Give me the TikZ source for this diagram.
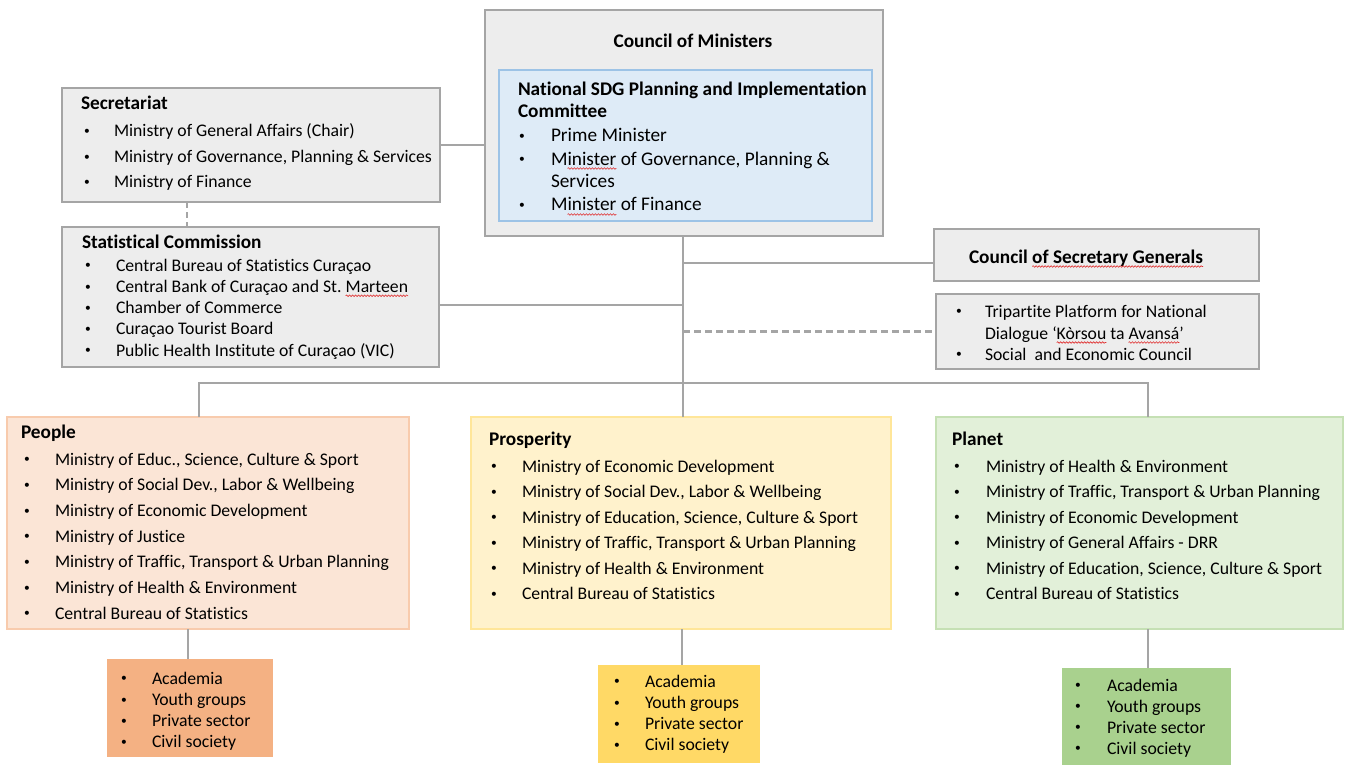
\documentclass[tikz,border=0pt]{standalone}
\usepackage{fontspec}
\setmainfont{Carlito}[Ligatures=NoCommon]
\usetikzlibrary{decorations.pathmorphing}

\definecolor{boxgray}{HTML}{EDEDED}
\definecolor{linegray}{HTML}{A5A5A5}
\definecolor{nsdgfill}{HTML}{DEEBF7}
\definecolor{nsdgline}{HTML}{9DC3E6}
\definecolor{peoplefill}{HTML}{FBE5D6}
\definecolor{peopleline}{HTML}{F8CBAD}
\definecolor{peopledark}{HTML}{F4B183}
\definecolor{prosfill}{HTML}{FFF2CC}
\definecolor{prosline}{HTML}{FFE699}
\definecolor{prosdark}{HTML}{FFD966}
\definecolor{planetfill}{HTML}{E2F0D9}
\definecolor{planetline}{HTML}{C5E0B4}
\definecolor{planetdark}{HTML}{A9D18E}
\definecolor{spellred}{HTML}{E03030}

\newcommand\fs{\fontsize{17.7}{21}\selectfont}
\newcommand\fsl{\fontsize{19.3}{23}\selectfont}
% small list bullet
\newcommand\bul{{\fontsize{11.5}{12}\selectfont\raisebox{2.2pt}{\textbullet}}}

\tikzset{
  panel/.style={draw=linegray, line width=2.5pt, fill=boxgray, inner sep=0pt, outer sep=0pt, anchor=north west},
  tinted/.style 2 args={panel, draw=#1, fill=#2},
  solidbox/.style={panel, draw=none, fill=#1},
  txt/.style={anchor=base west, inner sep=0pt, outer sep=0pt, font=\fs},
  ttl/.style={anchor=base west, inner sep=0pt, outer sep=0pt, font=\fsl\bfseries},
  link/.style={draw=linegray, line width=2.6pt},
  dlink/.style={link, dash pattern=on 7pt off 4pt},
  proofmark/.style={draw=spellred, line width=0.6pt,
    decorate, decoration={snake, amplitude=0.8pt, segment length=3pt}},
}

% \panelbox{name}{x1}{y1}{x2}{y2}{style}
\newcommand\panelbox[6]{%
  \node[#6, minimum width={(#4-#2)*1pt}, minimum height={(#5-#3)*1pt}] (#1) at (#2,#3) {};}

% \itemlist{prefix}{bullet x}{text x}{first baseline}{spacing}{style}{items}
\newcommand\itemlist[7]{%
  \foreach \t [count=\i] in {#7} {%
    \node[txt,#6] (#1b\i) at (#2,{#4+(\i-1)*#5}) {\bul};
    \node[txt,#6] (#1t\i) at (#3,{#4+(\i-1)*#5}) {\t};
  }}

\begin{document}
\begin{tikzpicture}[x=1pt,y=-1pt]
\useasboundingbox (0,0) rectangle (1350,765);

% ---------- boxes ----------
\panelbox{com}{485}{10}{883}{236}{panel}
\panelbox{nsdg}{499}{70}{872}{221}{tinted={nsdgline}{nsdgfill}}
\panelbox{sec}{62}{88}{440}{202}{panel}
\panelbox{stat}{62}{227}{439}{367}{panel}
\panelbox{csg}{934}{229}{1259}{281}{panel}
\panelbox{trip}{936}{294}{1259}{369}{panel}
\panelbox{people}{7}{417}{409}{629}{tinted={peopleline}{peoplefill}}
\panelbox{pros}{471}{417}{891}{629}{tinted={prosline}{prosfill}}
\panelbox{planet}{936}{417}{1343}{629}{tinted={planetline}{planetfill}}
\panelbox{peopleS}{107}{659}{273}{757}{solidbox=peopledark}
\panelbox{prosS}{598}{665}{760}{763}{solidbox=prosdark}
\panelbox{planetS}{1062}{668}{1231}{770}{solidbox=planetdark}

% ---------- junction points ----------
\coordinate (trunk) at (683,0);
\coordinate (dashx) at (187,0);
\coordinate (csgjoin) at (683,263);
\coordinate (statjoin) at (683,305);
\coordinate (distL) at (199,383);
\coordinate (distR) at (1148,383);
\coordinate (peopleX) at (188,0);
\coordinate (prosX) at (682,0);
\coordinate (planetX) at (1148,0);

% ---------- connectors ----------
\draw[link] (sec.east) -- (sec.east -| com.west);
\draw[dlink, dash pattern=on 6pt off 4pt] (sec.south -| dashx) -- (stat.north -| dashx);
\draw[link] (com.south -| trunk) -- (pros.north -| trunk);
\draw[link] (csgjoin) -- (csgjoin -| csg.west);
\draw[link] (statjoin -| stat.east) -- (statjoin);
\draw[dlink] (trip.west -| trunk) -- (trip.west);
\draw[link] (distL |- people.north) -- (distL) -- (distR) -- (distR |- planet.north);
\draw[link] (people.south -| peopleX) -- (peopleS.north -| peopleX);
\draw[link] (pros.south -| prosX) -- (prosS.north -| prosX);
\draw[link] (planet.south -| planetX) -- (planetS.north -| planetX);

% ---------- Council of Ministers ----------
\node[ttl, anchor=base] (comT) at (693,48) {Council of Ministers};
\node[ttl] (nsdgT1) at (518,96) {National SDG Planning and Implementation};
\node[ttl] (nsdgT2) at (518,118) {Committee};
\node[txt, font=\fsl] (nsdgb1) at (519,142) {\bul};
\node[txt, font=\fsl] (nsdgt1) at (551,142) {Prime Minister};
\node[txt, font=\fsl] (nsdgb2) at (519,165) {\bul};
\node[txt, font=\fsl] (nsdgt2) at (551,165) {M};
\node[txt, font=\fsl] (nsdgt2s) at (nsdgt2.base east) {inister};
\node[txt, font=\fsl] (nsdgt2r) at (nsdgt2s.base east) {\ of Governance, Planning \&};
\node[txt, font=\fsl] (nsdgt3) at (551,188) {Services};
\node[txt, font=\fsl] (nsdgb3) at (519,211) {\bul};
\node[txt, font=\fsl] (nsdgt4) at (551,211) {M};
\node[txt, font=\fsl] (nsdgt4s) at (nsdgt4.base east) {inister};
\node[txt, font=\fsl] (nsdgt4r) at (nsdgt4s.base east) {\ of Finance};

% ---------- Secretariat ----------
\node[ttl] (secT) at (81,110) {Secretariat};
\itemlist{sec}{84}{114}{137}{25.3}{}{%
  {Ministry of General Affairs (Chair)},
  {Ministry of Governance, Planning \& Services},
  {Ministry of Finance}}

% ---------- Statistical Commission ----------
\node[ttl] (statT) at (82,248) {Statistical Commission};
\itemlist{stat}{85}{116}{271}{21.25}{}{%
  {Central Bureau of Statistics Curaçao},
  {Central Bank of Curaçao and St.\ \null},
  {Chamber of Commerce},
  {Curaçao Tourist Board},
  {Public Health Institute of Curaçao (VIC)}}
\node[txt] (statm) at (statt2.base east) {Marteen};

% ---------- Council of Secretary Generals ----------
\node[ttl] (csgT) at (969,263) {Council\ \null};
\node[ttl] (csgTs) at (csgT.base east) {of Secretary Generals};

% ---------- Tripartite / SER ----------
\node[txt] (tripb1) at (956,317) {\bul};
\node[txt] (tript1) at (985,317) {Tripartite Platform for National};
\node[txt] (tript2) at (985,339) {Dialogue ‘};
\node[txt] (tripk) at (tript2.base east) {Kòrsou};
\node[txt] (tripm) at (tripk.base east) {\ ta\ \null};
\node[txt] (tripa) at (tripm.base east) {Avansá};
\node[txt] (tripq) at (tripa.base east) {’};
\node[txt] (tripb2) at (956,360) {\bul};
\node[txt] (tript3) at (985,360) {Social\ \ and Economic Council};

% ---------- proofing marks under flagged words ----------
\foreach \w in {nsdgt2s, nsdgt4s, statm, csgTs, tripk, tripa}
  \draw[proofmark] ([yshift=-3.5pt]\w.base west) -- ([yshift=-3.5pt]\w.base east);

% ---------- People ----------
\node[ttl] (peopleT) at (21,438) {People};
\itemlist{pe}{24}{55}{465}{25.67}{}{%
  {Ministry of Educ., Science, Culture \& Sport},
  {Ministry of Social Dev., Labor \& Wellbeing},
  {Ministry of Economic Development},
  {Ministry of Justice},
  {Ministry of Traffic, Transport \& Urban Planning},
  {Ministry of Health \& Environment},
  {Central Bureau of Statistics}}

% ---------- Prosperity ----------
\node[ttl] (prosT) at (489,445) {Prosperity};
\itemlist{pr}{491}{522}{472}{25.5}{}{%
  {Ministry of Economic Development},
  {Ministry of Social Dev., Labor \& Wellbeing},
  {Ministry of Education, Science, Culture \& Sport},
  {Ministry of Traffic, Transport \& Urban Planning},
  {Ministry of Health \& Environment},
  {Central Bureau of Statistics}}

% ---------- Planet ----------
\node[ttl] (planetT) at (952,445) {Planet};
\itemlist{pl}{954}{986}{472}{25.5}{}{%
  {Ministry of Health \& Environment},
  {Ministry of Traffic, Transport \& Urban Planning},
  {Ministry of Economic Development},
  {Ministry of General Affairs - DRR},
  {Ministry of Education, Science, Culture \& Sport},
  {Central Bureau of Statistics}}

% ---------- stakeholder groups ----------
\itemlist{peS}{121}{152}{684}{21.3}{}{Academia, Youth groups, Private sector, Civil society}
\itemlist{prS}{614}{645}{687}{21.3}{}{Academia, Youth groups, Private sector, Civil society}
\itemlist{plS}{1075}{1107}{691}{21}{}{Academia, Youth groups, Private sector, Civil society}

\end{tikzpicture}
\end{document}
